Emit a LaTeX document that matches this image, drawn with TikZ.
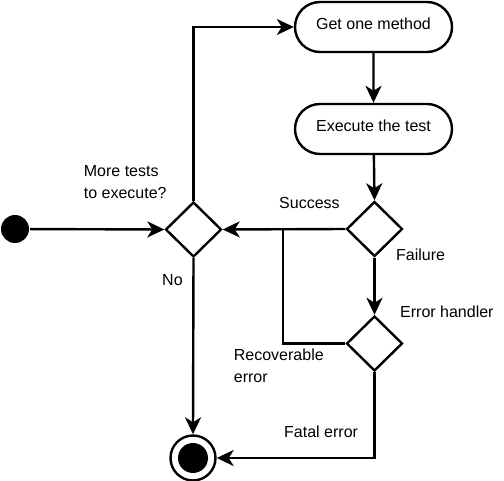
\documentclass[tikz,border=0pt]{standalone}
\usepackage{fontspec}
\setmainfont{Liberation Sans}
\usetikzlibrary{shapes.geometric,shapes.misc,arrows.meta}
\begin{document}
\begin{tikzpicture}[x=1pt,y=-1pt,
  line width=2.4pt,
  every node/.style={font=\fontsize{16}{22.5}\selectfont},
  arr/.style={-{Stealth[length=17pt,width=16pt,inset=5pt]}},
  act/.style={draw,rounded rectangle,minimum width=157pt,minimum height=50pt,inner sep=0pt},
  dec/.style={draw,diamond,minimum width=56pt,minimum height=55pt,inner sep=0pt},
  lbl/.style={anchor=base west,inner sep=0pt,align=left}]
\useasboundingbox (0,0) rectangle (504,481);
\node[circle,fill=black,minimum size=28pt,inner sep=0pt] (start) at (15,229) {};
\node[dec] (d1) at (193.5,229.5) {};
\node[act] (get) at (373.5,27) {\raisebox{3.5pt}[\height][\depth]{Get one method}};
\node[act] (exec) at (373.5,129) {\raisebox{3.5pt}[\height][\depth]{Execute the test}};
\node[dec] (d2) at (374.5,229) {};
\node[dec] (d3) at (374.5,343.5) {};
\node[circle,draw,minimum size=45pt,inner sep=0pt] (end) at (193,458) {};
\node[circle,fill=black,minimum size=30pt,inner sep=0pt] (endin) at (end.center) {};
\coordinate (j) at (283,229);
\draw[arr] (start) -- (d1.west);
\draw[arr] (d1.north) |- (get.west);
\draw[arr] (get) -- (exec);
\draw[arr] (exec) -- (d2.north);
\draw[arr] (d2.west) -- (d1.east);
\draw[arr] (d2.south) -- (d3.north);
\draw (d3.west) -| (j);
\draw[arr] (d3.south) |- (end.east);
\draw[arr] (d1.south) -- (end.north);
\node[lbl] (lmore) at (82.7,199) {More tests\\to execute?};
\node[lbl] (lno) at (161,286) {No};
\node[lbl] (lsucc) at (278,209) {Success};
\node[lbl] (lfail) at (395,261) {Failure};
\node[lbl] (lerr) at (399,318) {Error handler};
\node[lbl] (lrec) at (232.7,383) {Recoverable\\error};
\node[lbl] (lfat) at (283,438) {Fatal error};
\end{tikzpicture}
\end{document}
